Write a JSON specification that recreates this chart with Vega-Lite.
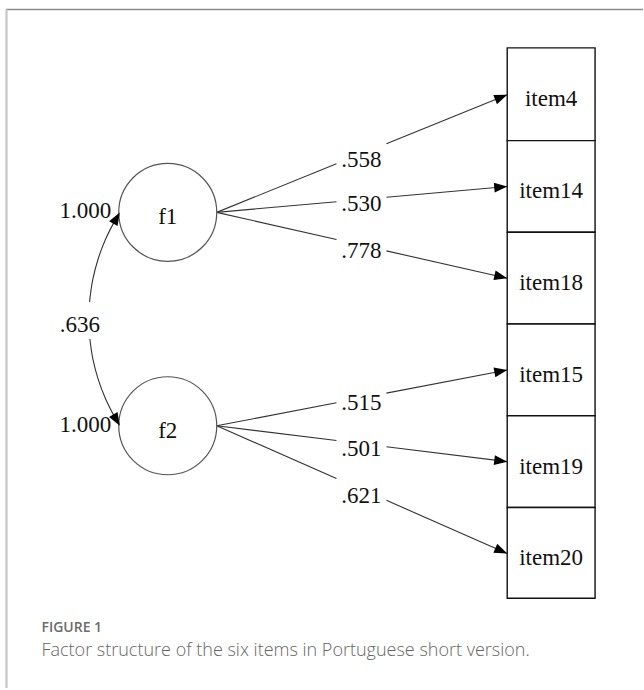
{
  "$schema": "https://vega.github.io/schema/vega-lite/v6.json",
  "width": 644,
  "height": 690,
  "autosize": {"type": "fit", "contains": "padding"},
  "padding": 0,
  "background": "white",
  "config": {"view": {"stroke": null}},
  "datasets": {
    "frame": [
      {"side": "top", "x": 6, "y": 9.5, "xe": 644, "ye": 9.5},
      {"side": "left", "x": 6.5, "y": 9.5, "xe": 6.5, "ye": 690}
    ],
    "edges": [
      {"from": "f1", "to": "item4", "label": ".558", "x": 217, "y": 213, "xe": 508, "ye": 95, "gx1": 337, "gy1": 164.3, "gx2": 387, "gy2": 144.1, "lx": 362, "ly": 160, "dir": -22.1},
      {"from": "f1", "to": "item14", "label": ".530", "x": 217, "y": 213, "xe": 508, "ye": 187, "gx1": 337, "gy1": 202.3, "gx2": 387, "gy2": 197.8, "lx": 362, "ly": 205, "dir": -5.1},
      {"from": "f1", "to": "item18", "label": ".778", "x": 217, "y": 213, "xe": 508, "ye": 279, "gx1": 337, "gy1": 240.2, "gx2": 387, "gy2": 251.6, "lx": 362, "ly": 252, "dir": 12.8},
      {"from": "f2", "to": "item15", "label": ".515", "x": 217, "y": 427, "xe": 508, "ye": 371, "gx1": 337, "gy1": 403.9, "gx2": 387, "gy2": 394.3, "lx": 362, "ly": 404, "dir": -10.9},
      {"from": "f2", "to": "item19", "label": ".501", "x": 217, "y": 427, "xe": 508, "ye": 463, "gx1": 337, "gy1": 441.8, "gx2": 387, "gy2": 448, "lx": 362, "ly": 450, "dir": 7.05},
      {"from": "f2", "to": "item20", "label": ".621", "x": 217, "y": 427, "xe": 508, "ye": 555, "gx1": 337, "gy1": 479.8, "gx2": 387, "gy2": 501.8, "lx": 362, "ly": 497, "dir": 23.7}
    ],
    "cov": [
      {"seg": "a", "ord": 1, "x": 120, "y": 213},
      {"seg": "a", "ord": 2, "x": 115.8, "y": 220},
      {"seg": "a", "ord": 3, "x": 105.7, "y": 240},
      {"seg": "a", "ord": 4, "x": 98.2, "y": 260},
      {"seg": "a", "ord": 5, "x": 93, "y": 280},
      {"seg": "a", "ord": 6, "x": 90.6, "y": 295},
      {"seg": "a", "ord": 7, "x": 89.7, "y": 303},
      {"seg": "b", "ord": 1, "x": 90, "y": 340},
      {"seg": "b", "ord": 2, "x": 93, "y": 360},
      {"seg": "b", "ord": 3, "x": 98.2, "y": 380},
      {"seg": "b", "ord": 4, "x": 105.7, "y": 400},
      {"seg": "b", "ord": 5, "x": 115.8, "y": 420},
      {"seg": "b", "ord": 6, "x": 120, "y": 427}
    ],
    "covheads": [
      {"x": 120, "y": 213, "dir": -60},
      {"x": 120, "y": 427, "dir": 60}
    ],
    "items": [
      {"name": "item4", "x": 508, "xe": 596, "y": 48, "ye": 141, "cx": 552, "cy": 94.5},
      {"name": "item14", "x": 508, "xe": 596, "y": 141, "ye": 233, "cx": 552, "cy": 187},
      {"name": "item18", "x": 508, "xe": 596, "y": 233, "ye": 325, "cx": 552, "cy": 279},
      {"name": "item15", "x": 508, "xe": 596, "y": 325, "ye": 417, "cx": 552, "cy": 371},
      {"name": "item19", "x": 508, "xe": 596, "y": 417, "ye": 509, "cx": 552, "cy": 463},
      {"name": "item20", "x": 508, "xe": 596, "y": 509, "ye": 600, "cx": 552, "cy": 554.5}
    ],
    "factors": [
      {"name": "f1", "x": 168, "y": 213, "ty": 218},
      {"name": "f2", "x": 168, "y": 427, "ty": 432}
    ],
    "covlabels": [
      {"t": "1.000", "x": 85.5, "y": 211.5},
      {"t": ".636", "x": 80, "y": 325.5},
      {"t": "1.000", "x": 85.5, "y": 426}
    ],
    "caption": [
      {"kind": "head", "t": "FIGURE 1", "x": 41.5, "y": 634},
      {"kind": "body", "t": "Factor structure of the six items in Portuguese short version.", "x": 41.5, "y": 658}
    ]
  },
  "layer": [
    {
      "data": {"name": "frame"},
      "mark": {"type": "rule"},
      "encoding": {
        "x": {"field": "x", "type": "quantitative", "scale": {"domain": [0, 644], "nice": false, "zero": false}, "axis": null},
        "y": {"field": "y", "type": "quantitative", "scale": {"domain": [0, 690], "nice": false, "zero": false, "reverse": true}, "axis": null},
        "x2": {"field": "xe"},
        "y2": {"field": "ye"},
        "color": {"field": "side", "type": "nominal", "scale": {"domain": ["top", "left"], "range": ["#8c8c8c", "#c6c6c6"]}, "legend": null},
        "strokeWidth": {"field": "side", "type": "nominal", "scale": {"domain": ["top", "left"], "range": [1.4, 2.2]}, "legend": null}
      }
    },
    {
      "data": {"name": "edges"},
      "mark": {"type": "rule", "color": "#333333", "strokeWidth": 1.1},
      "encoding": {
        "x": {"field": "x", "type": "quantitative", "scale": {"domain": [0, 644], "nice": false, "zero": false}, "axis": null},
        "y": {"field": "y", "type": "quantitative", "scale": {"domain": [0, 690], "nice": false, "zero": false, "reverse": true}, "axis": null},
        "x2": {"field": "gx1"},
        "y2": {"field": "gy1"}
      }
    },
    {
      "data": {"name": "edges"},
      "mark": {"type": "rule", "color": "#333333", "strokeWidth": 1.1},
      "encoding": {
        "x": {"field": "gx2", "type": "quantitative", "scale": {"domain": [0, 644], "nice": false, "zero": false}, "axis": null},
        "y": {"field": "gy2", "type": "quantitative", "scale": {"domain": [0, 690], "nice": false, "zero": false, "reverse": true}, "axis": null},
        "x2": {"field": "xe"},
        "y2": {"field": "ye"}
      }
    },
    {
      "data": {"name": "cov"},
      "mark": {"type": "line", "color": "#333333", "strokeWidth": 1.1, "interpolate": "catmull-rom"},
      "encoding": {
        "x": {"field": "x", "type": "quantitative", "scale": {"domain": [0, 644], "nice": false, "zero": false}, "axis": null},
        "y": {"field": "y", "type": "quantitative", "scale": {"domain": [0, 690], "nice": false, "zero": false, "reverse": true}, "axis": null},
        "detail": {"field": "seg", "type": "nominal"},
        "order": {"field": "ord", "type": "quantitative"}
      }
    },
    {
      "data": {"name": "items"},
      "mark": {"type": "rect", "fill": "white", "stroke": "#111111", "strokeWidth": 1.4},
      "encoding": {
        "x": {"field": "x", "type": "quantitative", "scale": {"domain": [0, 644], "nice": false, "zero": false}, "axis": null},
        "y": {"field": "y", "type": "quantitative", "scale": {"domain": [0, 690], "nice": false, "zero": false, "reverse": true}, "axis": null},
        "x2": {"field": "xe"},
        "y2": {"field": "ye"}
      }
    },
    {
      "data": {"name": "factors"},
      "mark": {"type": "point", "shape": "circle", "size": 9604, "filled": true, "fill": "white", "stroke": "#555555", "strokeWidth": 1.2, "opacity": 1},
      "encoding": {
        "x": {"field": "x", "type": "quantitative", "scale": {"domain": [0, 644], "nice": false, "zero": false}, "axis": null},
        "y": {"field": "y", "type": "quantitative", "scale": {"domain": [0, 690], "nice": false, "zero": false, "reverse": true}, "axis": null}
      }
    },
    {
      "data": {"name": "edges"},
      "mark": {"type": "point", "shape": "M0,0L-2,-0.75L-2,0.75Z", "size": 169, "filled": true, "color": "#000000", "opacity": 1},
      "encoding": {
        "x": {"field": "xe", "type": "quantitative", "scale": {"domain": [0, 644], "nice": false, "zero": false}, "axis": null},
        "y": {"field": "ye", "type": "quantitative", "scale": {"domain": [0, 690], "nice": false, "zero": false, "reverse": true}, "axis": null},
        "angle": {"field": "dir", "type": "quantitative", "scale": null}
      }
    },
    {
      "data": {"name": "covheads"},
      "mark": {"type": "point", "shape": "M0,0L-2,-0.75L-2,0.75Z", "size": 169, "filled": true, "color": "#000000", "opacity": 1},
      "encoding": {
        "x": {"field": "x", "type": "quantitative", "scale": {"domain": [0, 644], "nice": false, "zero": false}, "axis": null},
        "y": {"field": "y", "type": "quantitative", "scale": {"domain": [0, 690], "nice": false, "zero": false, "reverse": true}, "axis": null},
        "angle": {"field": "dir", "type": "quantitative", "scale": null}
      }
    },
    {
      "data": {"name": "edges"},
      "mark": {"type": "text", "font": "Liberation Serif", "fontSize": 23, "color": "#111111", "align": "center", "baseline": "middle"},
      "encoding": {
        "x": {"field": "lx", "type": "quantitative", "scale": {"domain": [0, 644], "nice": false, "zero": false}, "axis": null},
        "y": {"field": "ly", "type": "quantitative", "scale": {"domain": [0, 690], "nice": false, "zero": false, "reverse": true}, "axis": null},
        "text": {"field": "label", "type": "nominal"}
      }
    },
    {
      "data": {"name": "items"},
      "mark": {"type": "text", "font": "Liberation Serif", "fontSize": 23, "color": "#111111", "align": "center", "baseline": "middle", "dy": 5},
      "encoding": {
        "x": {"field": "cx", "type": "quantitative", "scale": {"domain": [0, 644], "nice": false, "zero": false}, "axis": null},
        "y": {"field": "cy", "type": "quantitative", "scale": {"domain": [0, 690], "nice": false, "zero": false, "reverse": true}, "axis": null},
        "text": {"field": "name", "type": "nominal"}
      }
    },
    {
      "data": {"name": "factors"},
      "mark": {"type": "text", "font": "Liberation Serif", "fontSize": 23, "color": "#111111", "align": "center", "baseline": "middle"},
      "encoding": {
        "x": {"field": "x", "type": "quantitative", "scale": {"domain": [0, 644], "nice": false, "zero": false}, "axis": null},
        "y": {"field": "ty", "type": "quantitative", "scale": {"domain": [0, 690], "nice": false, "zero": false, "reverse": true}, "axis": null},
        "text": {"field": "name", "type": "nominal"}
      }
    },
    {
      "data": {"name": "covlabels"},
      "mark": {"type": "text", "font": "Liberation Serif", "fontSize": 23, "color": "#111111", "align": "center", "baseline": "middle"},
      "encoding": {
        "x": {"field": "x", "type": "quantitative", "scale": {"domain": [0, 644], "nice": false, "zero": false}, "axis": null},
        "y": {"field": "y", "type": "quantitative", "scale": {"domain": [0, 690], "nice": false, "zero": false, "reverse": true}, "axis": null},
        "text": {"field": "t", "type": "nominal"}
      }
    },
    {
      "data": {"name": "caption"},
      "transform": [{"filter": "datum.kind === 'head'"}],
      "mark": {"type": "text", "font": "Open Sans", "fontSize": 14, "fontWeight": 600, "color": "#6b6b6b", "align": "left", "baseline": "alphabetic"},
      "encoding": {
        "x": {"field": "x", "type": "quantitative", "scale": {"domain": [0, 644], "nice": false, "zero": false}, "axis": null},
        "y": {"field": "y", "type": "quantitative", "scale": {"domain": [0, 690], "nice": false, "zero": false, "reverse": true}, "axis": null},
        "text": {"field": "t", "type": "nominal"}
      }
    },
    {
      "data": {"name": "caption"},
      "transform": [{"filter": "datum.kind === 'body'"}],
      "mark": {"type": "text", "font": "Open Sans", "fontSize": 18, "fontWeight": 300, "color": "#666666", "align": "left", "baseline": "alphabetic"},
      "encoding": {
        "x": {"field": "x", "type": "quantitative", "scale": {"domain": [0, 644], "nice": false, "zero": false}, "axis": null},
        "y": {"field": "y", "type": "quantitative", "scale": {"domain": [0, 690], "nice": false, "zero": false, "reverse": true}, "axis": null},
        "text": {"field": "t", "type": "nominal"}
      }
    }
  ]
}
